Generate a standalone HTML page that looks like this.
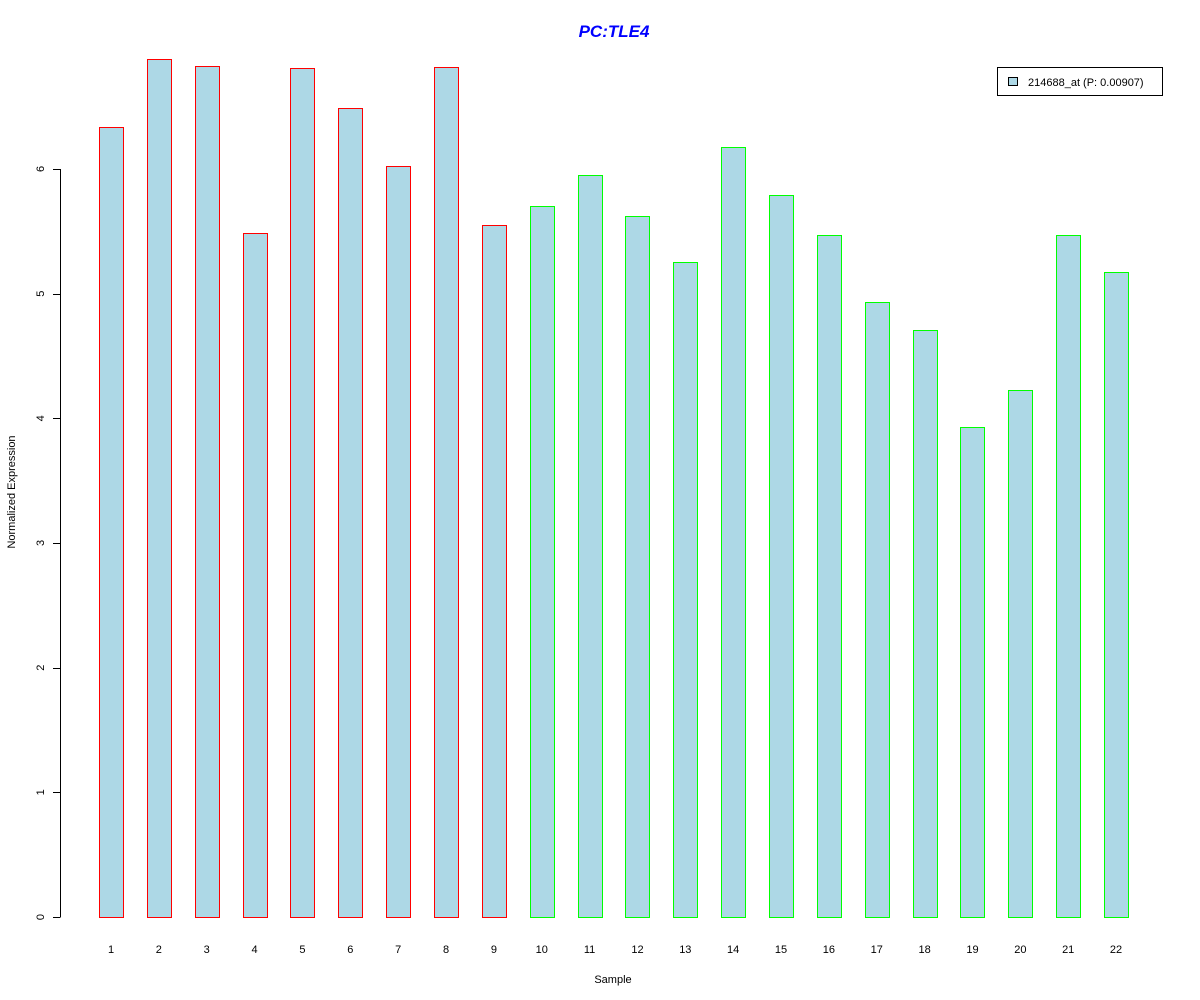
<!DOCTYPE html>
<html><head><meta charset="utf-8"><style>
body{margin:0;background:#fff;}
svg{display:block;font-family:"Liberation Sans",Arial,sans-serif;}
</style></head><body>
<svg id="chart" width="1200" height="1000">
<text x="614" y="37" text-anchor="middle" font-size="17" font-weight="bold" font-style="italic" fill="#0000ff">PC:TLE4</text>
<text x="613" y="983" text-anchor="middle" font-size="11">Sample</text>
<text transform="translate(15,492) rotate(-90)" text-anchor="middle" font-size="11">Normalized Expression</text>
<g id="yaxis"></g>
<g id="bars" shape-rendering="crispEdges"></g>
<g id="xlabels"></g>
<g shape-rendering="crispEdges">
<rect x="997.5" y="67.5" width="165" height="28" fill="#fff" stroke="#000"/>
<rect x="1008.5" y="77.5" width="9" height="8" fill="#add8e6" stroke="#000"/>
<text x="1028" y="86" font-size="11">214688_at (P: 0.00907)</text>
</g>
</svg>
<script>
const categories=["1","2","3","4","5","6","7","8","9","10","11","12","13","14","15","16","17","18","19","20","21","22"];
const values=[6.34,6.88,6.83,5.49,6.81,6.49,6.02,6.82,5.55,5.70,5.95,5.62,5.25,6.18,5.79,5.47,4.93,4.71,3.93,4.23,5.47,5.17];
const groups=["red","red","red","red","red","red","red","red","red","green","green","green","green","green","green","green","green","green","green","green","green","green"];
const yTicks=[0,1,2,3,4,5,6];
const NS="http://www.w3.org/2000/svg";
const y=v=>917-v*124.67;
const x=i=>111+i*47.86;
const strokeFor={red:"#ff0000",green:"#00ff00"};
function mk(t,a,p){const e=document.createElementNS(NS,t);for(const k in a)e.setAttribute(k,a[k]);p.appendChild(e);return e;}
const ya=document.getElementById("yaxis");
mk("line",{x1:60.5,x2:60.5,y1:y(0),y2:y(6),stroke:"#000"},ya);
yTicks.forEach(t=>{
 mk("line",{x1:53,x2:60.5,y1:Math.round(y(t))+.5,y2:Math.round(y(t))+.5,stroke:"#000"},ya);
 const tx=mk("text",{transform:`translate(44,${y(t)}) rotate(-90)`,"text-anchor":"middle","font-size":"11"},ya);
 
 
 tx.textContent=t;
});
const bg=document.getElementById("bars"),xl=document.getElementById("xlabels");
values.forEach((v,i)=>{
 const r=mk("rect",{x:Math.round(x(i)-12)+.5,y:Math.round(y(v))+.5,width:24,height:Math.round(y(0))-Math.round(y(v))},bg);
 r.style.fill="#add8e6";
 r.style.stroke=strokeFor[groups[i]];
 r.style.strokeWidth="1";
 
 
 const t=mk("text",{x:x(i),y:953,"text-anchor":"middle","font-size":"11"},xl);
 
 
 t.textContent=categories[i];
});
</script>
</body></html>
